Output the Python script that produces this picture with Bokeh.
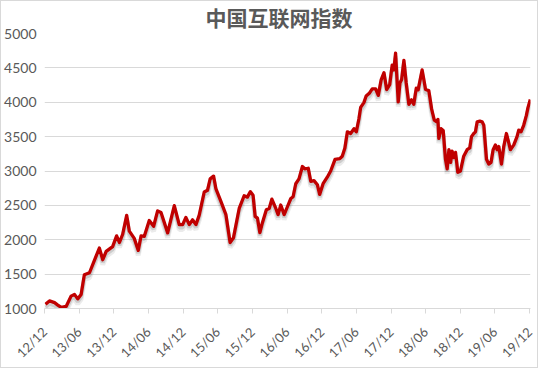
import pandas as pd
from bokeh.plotting import figure
from bokeh.models import FixedTicker, Range1d, DatetimeTickFormatter
from bokeh.embed import file_html
from bokeh.resources import INLINE

title_text = "中国互联网指数"

dates = [
    "2012-12-06", "2012-12-27", "2013-01-23", "2013-02-09", "2013-02-27", "2013-03-25",
    "2013-04-20", "2013-05-08", "2013-05-25", "2013-06-12", "2013-06-29", "2013-07-26",
    "2013-08-21", "2013-09-16", "2013-10-04", "2013-10-22", "2013-11-25", "2013-12-16",
    "2013-12-31", "2014-01-17", "2014-02-07", "2014-02-21", "2014-03-19", "2014-04-09",
    "2014-04-24", "2014-05-11", "2014-06-06", "2014-06-29", "2014-07-20", "2014-08-07",
    "2014-09-11", "2014-10-16", "2014-11-11", "2014-11-29", "2014-12-16", "2015-01-03",
    "2015-01-20", "2015-02-07", "2015-02-24", "2015-03-23", "2015-04-09", "2015-04-23",
    "2015-05-11", "2015-05-23", "2015-06-19", "2015-07-15", "2015-08-06", "2015-08-24",
    "2015-09-23", "2015-10-19", "2015-11-05", "2015-11-21", "2015-12-05", "2015-12-16",
    "2015-12-28", "2016-01-10", "2016-01-23", "2016-02-13", "2016-02-28", "2016-03-13",
    "2016-04-03", "2016-04-15", "2016-04-29", "2016-05-17", "2016-06-03", "2016-06-21",
    "2016-07-03", "2016-07-17", "2016-08-03", "2016-08-21", "2016-09-04", "2016-09-21",
    "2016-10-04", "2016-10-21", "2016-11-08", "2016-11-20", "2016-12-08", "2016-12-30",
    "2017-01-17", "2017-02-09", "2017-03-06", "2017-03-19", "2017-04-02", "2017-04-15",
    "2017-05-02", "2017-05-20", "2017-06-01", "2017-06-15", "2017-06-24", "2017-07-11",
    "2017-07-23", "2017-08-10", "2017-08-24", "2017-09-11", "2017-09-25", "2017-10-10",
    "2017-10-25", "2017-11-08", "2017-11-24", "2017-12-07", "2017-12-16", "2017-12-25",
    "2018-01-08", "2018-01-17", "2018-01-26", "2018-02-07", "2018-02-19", "2018-03-05",
    "2018-03-19", "2018-03-31", "2018-04-13", "2018-04-23", "2018-05-14", "2018-06-01",
    "2018-06-18", "2018-07-03", "2018-07-17", "2018-07-28", "2018-08-05", "2018-08-10",
    "2018-08-22", "2018-09-02", "2018-09-14", "2018-09-23", "2018-10-02", "2018-10-11",
    "2018-10-19", "2018-10-28", "2018-11-06", "2018-11-18", "2018-12-02", "2018-12-19",
    "2019-01-06", "2019-01-20", "2019-01-29", "2019-02-10", "2019-02-19", "2019-02-28",
    "2019-03-14", "2019-03-26", "2019-04-04", "2019-04-18", "2019-04-30", "2019-05-12",
    "2019-05-23", "2019-06-04", "2019-06-13", "2019-06-22", "2019-07-06", "2019-07-18",
    "2019-08-01", "2019-08-10", "2019-08-22", "2019-09-09", "2019-09-26", "2019-10-05",
    "2019-10-17", "2019-10-31", "2019-11-14", "2019-11-23", "2019-12-05",
]

index_values = [
    1062, 1110, 1085, 1050, 1015, 1030,
    1180, 1205, 1140, 1205, 1490, 1520,
    1700, 1880, 1710, 1830, 1900, 2057,
    1960, 2080, 2355, 2125, 2020, 1845,
    2057, 2050, 2280, 2195, 2420, 2395,
    2100, 2495, 2220, 2220, 2325, 2220,
    2290, 2220, 2355, 2695, 2720, 2885,
    2925, 2745, 2555, 2365, 1960, 2030,
    2455, 2640, 2620, 2700, 2648, 2340,
    2315, 2103, 2245, 2435, 2455, 2590,
    2455, 2365, 2505, 2365, 2480, 2600,
    2625, 2815, 2885, 3065, 3030, 3040,
    2850, 2860, 2800, 2660, 2815, 2910,
    3000, 3170, 3180, 3215, 3335, 3570,
    3545, 3615, 3570, 3760, 3925, 3995,
    4090, 4135, 4195, 4195, 4100, 4325,
    4430, 4185, 4255, 4540, 4470, 4715,
    4005, 4280, 4330, 4610, 4280, 3970,
    4035, 3970, 4205, 4180, 4470, 4185,
    4170, 3900, 3740, 3720, 3750, 3475,
    3615, 3590, 3170, 3030, 3310, 3125,
    3290, 3195, 3270, 2980, 3000, 3215,
    3310, 3335, 3500, 3545, 3570, 3715,
    3725, 3715, 3665, 3170, 3100, 3125,
    3310, 3380, 3310, 3355, 3100, 3355,
    3545, 3450, 3310, 3380, 3500, 3595,
    3570, 3665, 3805, 3925, 4040,
]

tick_dates = [
    "2012-12-01", "2013-06-01", "2013-12-01", "2014-06-01", "2014-12-01",
    "2015-06-01", "2015-12-01", "2016-06-01", "2016-12-01", "2017-06-01",
    "2017-12-01", "2018-06-01", "2018-12-01", "2019-06-01", "2019-12-01",
]
tick_label_format = "%y/%m"
y_ticks = [1000, 1500, 2000, 2500, 3000, 3500, 4000, 4500, 5000]

W, H = 538, 368

x = pd.to_datetime(dates)
tick_ms = [int(pd.Timestamp(d).value // 10**6) for d in tick_dates]
x0, x1 = pd.Timestamp("2012-12-01"), pd.Timestamp("2019-12-06")

p = figure(
    width=W, height=H,
    x_axis_type="datetime",
    x_range=Range1d(x0, x1),
    y_range=Range1d(1000, 5000),
    output_backend="svg",
    toolbar_location=None,
    min_border_left=42, min_border_right=9,
    min_border_top=32, min_border_bottom=53,
)
p.styles = {"border": "1px solid #d9d9d9"}
p.outline_line_color = None
p.background_fill_color = "white"
p.border_fill_color = "white"

p.title.text = title_text
p.title.align = "left"
p.title.offset = 161
p.title.standoff = 0
p.title.vertical_align = "top"
p.title.text_font = "Noto Sans CJK SC"
p.title.text_font_size = "21px"
p.title.text_font_style = "bold"
p.title.text_color = "#595959"

# soft drop shadow drawn through slightly shifted ranges
p.extra_y_ranges = {
    "shadow1": Range1d(1000 + 40, 5000 + 40),
    "shadow2": Range1d(1000 + 70, 5000 + 70),
}
p.line(x, index_values, line_color="#000000", line_alpha=0.08, line_width=5,
       y_range_name="shadow2")
p.line(x, index_values, line_color="#000000", line_alpha=0.13, line_width=4,
       y_range_name="shadow1")
p.line(x, index_values, line_color="#c00000", line_width=3.3, line_join="round")

fmt = DatetimeTickFormatter(
    years=tick_label_format, months=tick_label_format, days=tick_label_format,
    hours=tick_label_format, hourmin=tick_label_format, minutes=tick_label_format,
    minsec=tick_label_format, seconds=tick_label_format,
    milliseconds=tick_label_format, microseconds=tick_label_format,
)

p.xaxis.ticker = FixedTicker(ticks=tick_ms)
p.xaxis.formatter = fmt
p.xaxis.axis_line_color = "#d9d9d9"
p.xaxis.major_tick_line_color = "#d9d9d9"
p.xaxis.major_tick_in = 0
p.xaxis.major_tick_out = 5
p.xaxis.minor_tick_line_color = None
p.xaxis.minor_tick_out = 0
p.xaxis.major_label_orientation = 0.785398
p.xaxis.major_label_standoff = 16
p.xaxis.major_label_text_line_height = 0.7
p.xaxis.major_label_text_font = "Lato"
p.xaxis.major_label_text_font_size = "13px"
p.xaxis.major_label_text_color = "#595959"

p.yaxis.ticker = FixedTicker(ticks=y_ticks)
p.yaxis.axis_line_color = None
p.yaxis.major_tick_line_color = None
p.yaxis.minor_tick_line_color = None
p.yaxis.major_tick_out = 0
p.yaxis.minor_tick_out = 0
p.yaxis.major_label_text_font = "Lato"
p.yaxis.major_label_text_font_size = "14px"
p.yaxis.major_label_text_color = "#595959"
p.yaxis.major_label_standoff = 8

p.xgrid.grid_line_color = None
p.ygrid.ticker = FixedTicker(ticks=y_ticks)
p.ygrid.grid_line_color = "#d9d9d9"
p.ygrid.grid_line_width = 1

open("out.html", "w").write(file_html(p, INLINE))
